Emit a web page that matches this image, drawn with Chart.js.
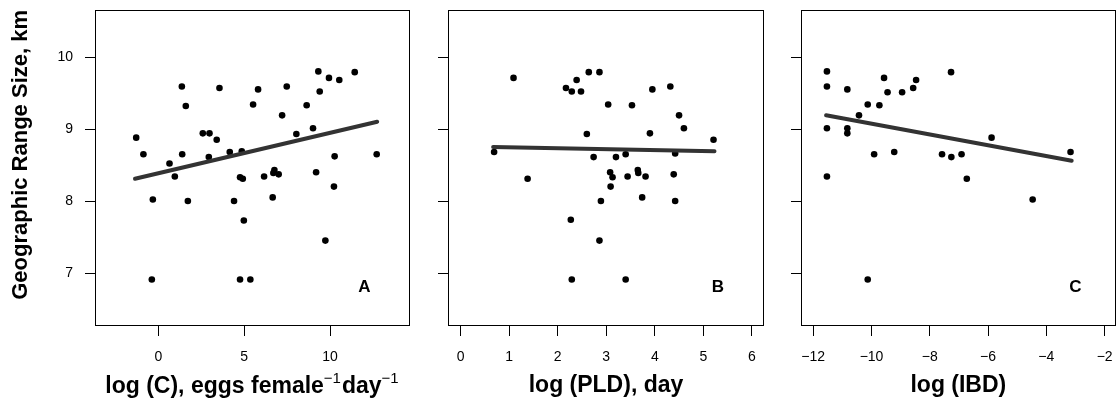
<!DOCTYPE html>
<html>
<head>
<meta charset="utf-8">
<title>Geographic range size</title>
<script src="https://cdn.jsdelivr.net/npm/chart.js@4.4.1/dist/chart.umd.min.js"></script>
<style>
  html, body { margin: 0; padding: 0; background: #fff; }
  #wrap { position: relative; width: 1119px; height: 403px; overflow: hidden; background: #fff; }
  #wrap canvas { position: absolute; top: 0; }
</style>
</head>
<body>
<div id="wrap">
  <canvas id="panelA" width="425" height="403" style="left:0px"></canvas>
  <canvas id="panelB" width="355" height="403" style="left:425px"></canvas>
  <canvas id="panelC" width="339" height="403" style="left:780px"></canvas>
</div>
<script>
// ---- Panel A: log fecundity (eggs per female per day) ----
const fecundityX = [-1.29, -0.87, -0.32, -0.38, 0.65, 0.96, 1.37, 1.39, 1.60, 1.72,
  2.59, 2.98, 2.94, 3.40, 3.56, 4.16, 4.41, 4.76, 4.92, 4.86, 4.76, 5.36, 4.98, 5.52,
  5.81, 6.16, 6.66, 6.76, 6.70, 7.01, 7.21, 7.48, 8.04, 8.64, 9.01, 9.19, 9.32, 9.40,
  9.73, 9.94, 10.23, 10.27, 10.54, 11.44, 12.72];
const fecundityY = [8.88, 8.65, 8.02, 6.91, 8.52, 8.34, 9.59, 8.65, 9.32, 8.00,
  8.94, 8.94, 8.61, 8.85, 9.57, 8.68, 8.00, 8.33, 8.31, 8.69, 6.91, 6.91, 7.73, 9.34,
  9.55, 8.34, 8.05, 8.43, 8.39, 8.37, 9.19, 9.59, 8.93, 9.33, 9.01, 8.40, 9.80, 9.52,
  7.45, 9.71, 8.20, 8.62, 9.68, 9.79, 8.65];
const fitAx = [-1.36, 12.75];
const fitAy = [8.31, 9.10];

// ---- Panel B: log pelagic larval duration (days) ----
const pldX = [0.69, 1.09, 1.38, 2.17, 2.29, 2.39, 2.48, 2.64, 2.86, 2.60, 2.74, 2.27,
  2.29, 2.86, 2.89, 3.04, 3.08, 3.13, 3.09, 3.20, 3.40, 3.44, 3.40, 3.53, 3.65, 3.66,
  3.74, 3.81, 3.90, 3.95, 4.32, 4.39, 4.42, 4.42, 4.50, 4.60, 5.21];
const pldY = [8.68, 9.71, 8.31, 9.57, 9.52, 9.68, 9.52, 9.79, 9.79, 8.93, 8.61, 7.74,
  6.91, 7.45, 8.00, 9.34, 8.40, 8.33, 8.20, 8.61, 8.65, 8.34, 6.91, 9.33, 8.43, 8.39,
  8.05, 8.34, 8.94, 9.55, 9.59, 8.37, 8.00, 8.66, 9.19, 9.01, 8.85];
const fitBx = [0.67, 5.23];
const fitBy = [8.75, 8.69];

// ---- Panel C: log isolation-by-distance slope ----
const ibdX = [-11.53, -11.53, -11.53, -11.53, -10.83, -10.83, -10.83, -10.43, -10.13,
  -10.13, -9.91, -9.73, -9.57, -9.45, -9.22, -8.95, -8.57, -8.47, -7.58, -7.27, -7.26,
  -6.91, -6.73, -5.88, -4.47, -3.17];
const ibdY = [9.80, 9.59, 9.01, 8.34, 9.55, 9.01, 8.94, 9.19, 9.34, 6.91, 8.65, 9.33,
  9.71, 9.51, 8.68, 9.51, 9.57, 9.68, 8.65, 9.79, 8.61, 8.65, 8.31, 8.88, 8.02, 8.68];
const fitCx = [-11.56, -3.13];
const fitCy = [9.19, 8.56];

// ---- Axes ----
const rangeTicks = [7, 8, 9, 10];
const fecundityTicks = [0, 5, 10];
const pldTicks = [0, 1, 2, 3, 4, 5, 6];
const ibdTicks = [-12, -10, -8, -6, -4, -2];

// axis title with superscripted exponents: [text, isSuperscript]
const fecundityTitle = [['log (C), eggs female', false], ['\u22121', true], ['day', false], ['\u22121', true]];

const FONT = "'Liberation Sans', Arial, Helvetica, sans-serif";
Chart.defaults.color = '#000';
Chart.defaults.font.family = FONT;

const toPoints = (xs, ys) => xs.map((x, i) => ({ x: x, y: ys[i] }));
const minusSign = v => String(v).replace('-', '\u2212');

// box around the plotting region
const framePlugin = {
  id: 'frame',
  afterDraw(chart) {
    const a = chart.chartArea, ctx = chart.ctx;
    ctx.save();
    ctx.strokeStyle = '#000';
    ctx.lineWidth = 1;
    ctx.strokeRect(Math.round(a.left) + 0.5, Math.round(a.top) + 0.5,
      Math.round(a.right - a.left) - 1, Math.round(a.bottom - a.top) - 1);
    ctx.restore();
  }
};

// panel letter placed in data coordinates
const letterPlugin = {
  id: 'panelLetter',
  afterDatasetsDraw(chart, args, opts) {
    if (!opts.text) return;
    const ctx = chart.ctx;
    ctx.save();
    ctx.font = 'bold 17px ' + FONT;
    ctx.fillStyle = '#000';
    ctx.textAlign = 'center';
    ctx.textBaseline = 'middle';
    ctx.fillText(opts.text, chart.scales.x.getPixelForValue(opts.x),
      chart.scales.y.getPixelForValue(opts.y));
    ctx.restore();
  }
};

// x-axis title made of runs, exponents drawn smaller and raised
const richTitlePlugin = {
  id: 'richTitle',
  afterDraw(chart, args, opts) {
    if (!opts.runs) return;
    const ctx = chart.ctx, a = chart.chartArea;
    const mainFont = 'bold 23px ' + FONT, supFont = '15px ' + FONT;
    ctx.save();
    ctx.fillStyle = '#000';
    ctx.textBaseline = 'alphabetic';
    ctx.textAlign = 'left';
    let total = 0;
    const widths = opts.runs.map(([t, sup]) => {
      ctx.font = sup ? supFont : mainFont;
      const w = ctx.measureText(t).width + (sup ? 1 : 0);
      total += w;
      return w;
    });
    let x = (a.left + a.right) / 2 - total / 2;
    const base = chart.height - 10;
    opts.runs.forEach(([t, sup], i) => {
      ctx.font = sup ? supFont : mainFont;
      ctx.fillText(t, x, sup ? base - 10 : base);
      x += widths[i];
    });
    ctx.restore();
  }
};

function makePanel(id, cfg) {
  return new Chart(document.getElementById(id), {
    type: 'scatter',
    data: {
      datasets: [
        {
          type: 'line',
          data: toPoints(cfg.fitX, cfg.fitY),
          borderColor: '#333333',
          borderWidth: 4,
          borderCapStyle: 'round',
          pointRadius: 0,
          fill: false,
          order: 0
        },
        {
          data: toPoints(cfg.xs, cfg.ys),
          backgroundColor: '#000',
          borderWidth: 0,
          pointRadius: 3.3,
          pointHoverRadius: 3.3,
          order: 1
        }
      ]
    },
    options: {
      responsive: false,
      animation: false,
      devicePixelRatio: 1,
      events: [],
      layout: { padding: { top: 10, right: cfg.padRight, left: 0, bottom: 0 } },
      plugins: {
        legend: { display: false },
        tooltip: { enabled: false },
        panelLetter: cfg.letter,
        richTitle: { runs: cfg.xTitleRuns || null }
      },
      scales: {
        x: {
          type: 'linear',
          min: cfg.xMin,
          max: cfg.xMax,
          afterBuildTicks: s => { s.ticks = cfg.xTicks.map(v => ({ value: v })); },
          afterFit: s => { s.height = 77; s.paddingLeft = 0; s.paddingRight = 0; },
          border: { display: false },
          grid: { drawOnChartArea: false, drawTicks: true, tickLength: 10, color: '#000', lineWidth: 1 },
          ticks: { font: { size: 14 }, padding: 13, maxRotation: 0, autoSkip: false,
                   callback: v => minusSign(v) },
          title: { display: !cfg.xTitleRuns, text: cfg.xTitle || '', color: '#000',
                   font: { size: 23, weight: 'bold' }, padding: { top: 0, bottom: 4 } }
        },
        y: {
          type: 'linear',
          min: 6.264,
          max: 10.653,
          afterBuildTicks: s => { s.ticks = rangeTicks.map(v => ({ value: v })); },
          afterFit: s => { s.width = cfg.yWidth; s.paddingTop = 0; s.paddingBottom = 0; },
          border: { display: false },
          grid: { drawOnChartArea: false, drawTicks: true, tickLength: 10, color: '#000', lineWidth: 1 },
          ticks: { display: cfg.yLabels, font: { size: 14 }, padding: 12 },
          title: { display: cfg.yLabels, text: 'Geographic Range Size, km', color: '#000',
                   align: 'end', font: { size: 22, weight: 'bold' }, padding: { top: 8, bottom: 0 } }
        }
      }
    },
    plugins: [framePlugin, letterPlugin, richTitlePlugin]
  });
}

makePanel('panelA', {
  xs: fecundityX, ys: fecundityY, fitX: fitAx, fitY: fitAy,
  xMin: -3.69, xMax: 14.66, xTicks: fecundityTicks,
  xTitleRuns: fecundityTitle,
  yWidth: 95, padRight: 15, yLabels: true,
  letter: { text: 'A', x: 12, y: 6.8 }
});

makePanel('panelB', {
  xs: pldX, ys: pldY, fitX: fitBx, fitY: fitBy,
  xMin: -0.26, xMax: 6.25, xTicks: pldTicks,
  xTitle: 'log (PLD), day',
  yWidth: 23, padRight: 16, yLabels: false,
  letter: { text: 'B', x: 5.3, y: 6.8 }
});

makePanel('panelC', {
  xs: ibdX, ys: ibdY, fitX: fitCx, fitY: fitCy,
  xMin: -12.42, xMax: -1.62, xTicks: ibdTicks,
  xTitle: 'log (IBD)',
  yWidth: 21, padRight: 3, yLabels: false,
  letter: { text: 'C', x: -3.0, y: 6.8 }
});
</script>
</body>
</html>
